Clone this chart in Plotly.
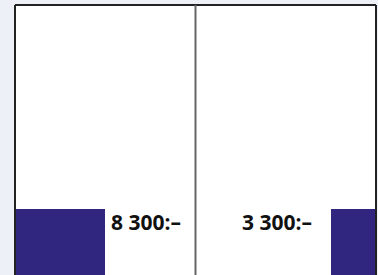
import plotly.graph_objects as go

categories = ["Rad"]
left_values = [8300]
right_values = [3300]
left_labels = ["8 300:–"]
right_labels = ["3 300:–"]

BAR = "#30267f"
fig = go.Figure()
fig.add_trace(go.Bar(y=[0], x=left_values, orientation="h", marker=dict(color=BAR, line=dict(width=0)),
                     width=1.2, xaxis="x", yaxis="y", name=categories[0], hoverinfo="skip"))
fig.add_trace(go.Bar(y=[0], x=right_values, orientation="h", marker=dict(color=BAR, line=dict(width=0)),
                     width=1.2, xaxis="x2", yaxis="y", name=categories[0], hoverinfo="skip"))

font = dict(family="Open Sans", size=21, color="#111111")
fig.add_annotation(x=left_values[0], y=0.6, xref="x", yref="y", text="<b>%s</b>" % left_labels[0],
                   showarrow=False, xanchor="left", yanchor="middle", xshift=4, yshift=-13, font=font)
fig.add_annotation(x=right_values[0], y=0.6, xref="x2", yref="y", text="<b>%s</b>" % right_labels[0],
                   showarrow=False, xanchor="right", yanchor="middle", xshift=-17, yshift=-13, font=font)

ax = dict(showgrid=False, zeroline=False, showticklabels=False, ticks="", showline=False, fixedrange=True)
fig.update_layout(
    width=378, height=275,
    margin=dict(l=15, r=2, t=5, b=0),
    paper_bgcolor="#edf0f7", plot_bgcolor="white",
    showlegend=False, bargap=0,
    xaxis=dict(ax, domain=[0, 0.5], range=[0, 2 * left_values[0]]),
    xaxis2=dict(ax, domain=[0.5, 1], range=[4 * right_values[0], 0]),
    yaxis=dict(ax, range=[-0.6, 4.309]),
    shapes=[
        dict(type="line", xref="paper", yref="paper", x0=0, x1=1, y0=1, y1=1, line=dict(color="#222222", width=2)),
        dict(type="line", xref="paper", yref="paper", x0=0, x1=0, y0=0, y1=1, line=dict(color="#222222", width=2)),
        dict(type="line", xref="paper", yref="paper", x0=1, x1=1, y0=0, y1=1, line=dict(color="#222222", width=2)),
        dict(type="line", xref="paper", yref="paper", x0=0.5, x1=0.5, y0=0, y1=1, line=dict(color="#666666", width=2)),
    ],
)
fig.write_html("out.html", config={"displayModeBar": False},
               post_script="document.body.style.margin='0';document.body.style.overflow='hidden';")
